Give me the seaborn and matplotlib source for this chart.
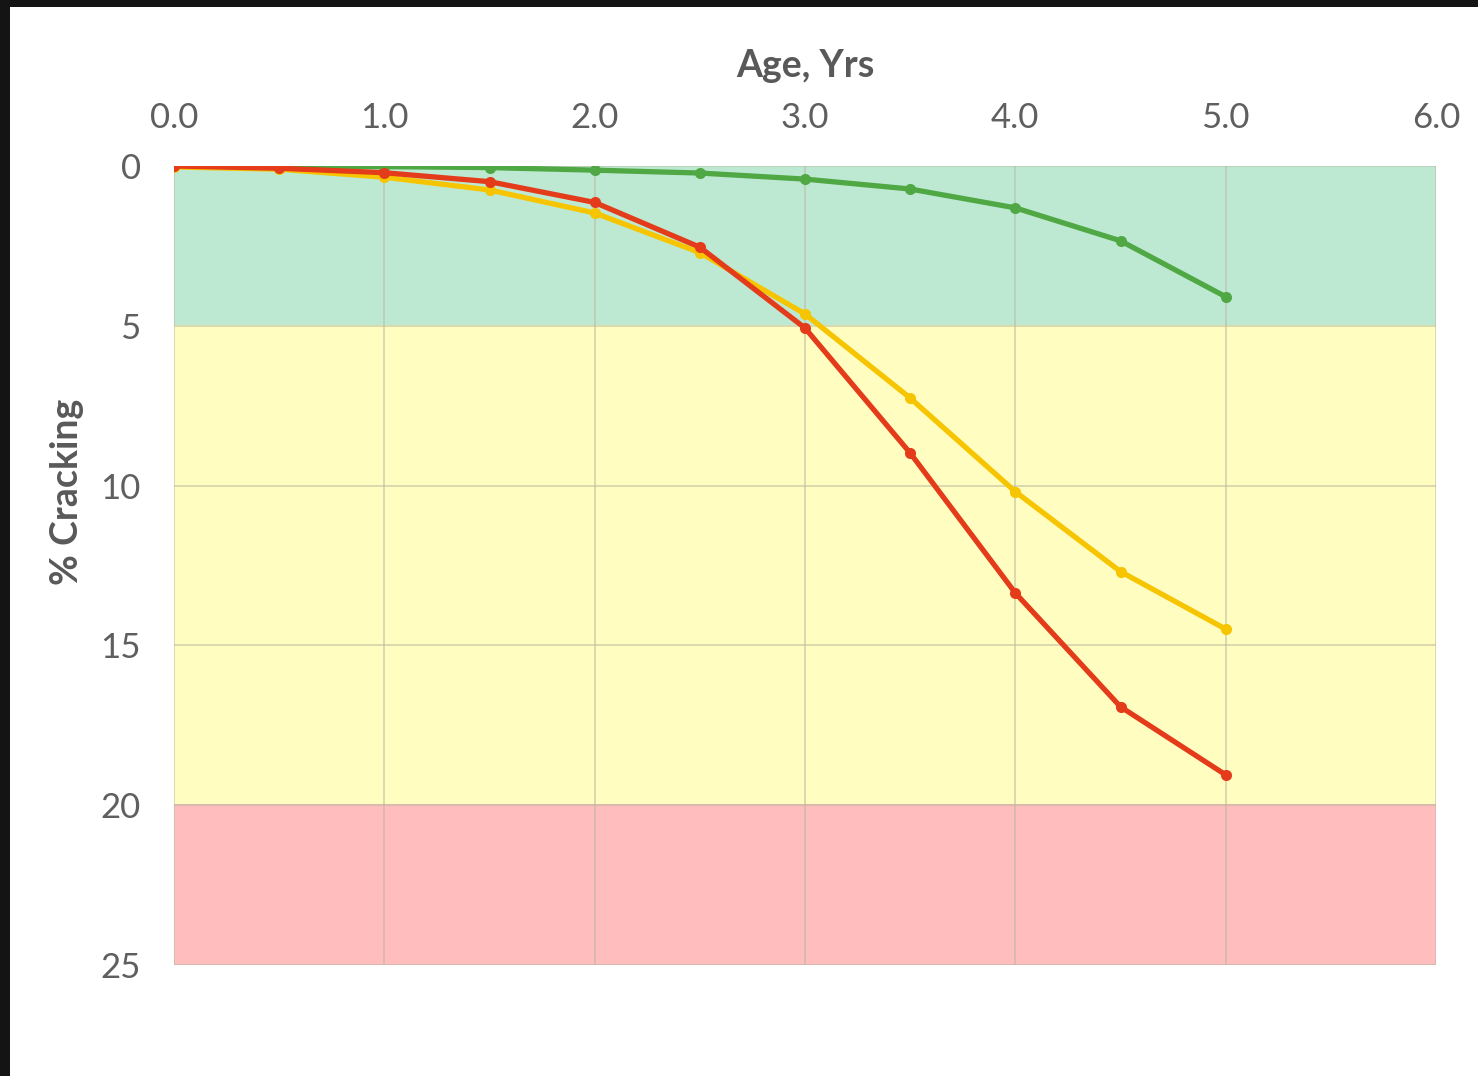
import pandas as pd
import seaborn as sns
import matplotlib.pyplot as plt
from matplotlib.patches import Rectangle

# age in years and % cracking for the three curves
age = [0.0, 0.5, 1.0, 1.5, 2.0, 2.5, 3.0, 3.5, 4.0, 4.5, 5.0]
green_vals = [0.0, 0.0, 0.02, 0.05, 0.13, 0.22, 0.41, 0.72, 1.31, 2.34, 4.09]
yellow_vals = [0.03, 0.1, 0.35, 0.75, 1.47, 2.71, 4.63, 7.26, 10.19, 12.69, 14.49]
red_vals = [0.0, 0.07, 0.21, 0.49, 1.14, 2.54, 5.07, 8.98, 13.36, 16.92, 19.05]

# condition bands (y from, y to)
band_limits = [(0, 5), (5, 20), (20, 25)]
band_colors = ["#bde9d3", "#fffdc0", "#ffbdbd"]

x_ticks = [0.0, 1.0, 2.0, 3.0, 4.0, 5.0, 6.0]
y_ticks = [0, 5, 10, 15, 20, 25]

df = pd.DataFrame({
    "age": age * 3,
    "cracking": green_vals + yellow_vals + red_vals,
    "series": ["green"] * len(age) + ["yellow"] * len(age) + ["red"] * len(age),
})

sns.set_style("white")
plt.rcParams["font.family"] = ["Lato", "DejaVu Sans"]

fig = plt.figure(figsize=(14.78, 10.76), dpi=100, facecolor="#141414")
# white slide panel behind the chart
panel = Rectangle((10 / 1478, 0), 1, 1 - 7 / 1076, transform=fig.transFigure,
                  facecolor="white", edgecolor="none", zorder=-10)
fig.add_artist(panel)

ax = fig.add_axes([174 / 1478, 1 - 965 / 1076, (1436 - 174) / 1478, (965 - 166) / 1076])
ax.set_facecolor("none")

for (y0, y1), c in zip(band_limits, band_colors):
    ax.add_patch(Rectangle((0, y0), 6, y1 - y0, facecolor=c,
                           edgecolor=c, lw=1.5, zorder=0))

sns.lineplot(
    data=df,
    x="age",
    y="cracking",
    hue="series",
    palette={"green": "#4fa843", "yellow": "#f7c400", "red": "#e43c1a"},
    marker="o",
    markersize=8,
    markeredgewidth=0,
    linewidth=3.8,
    legend=False,
    ax=ax,
    zorder=3,
)

ax.set_xlim(0, 6)
ax.set_ylim(25, 0)
ax.xaxis.tick_top()
ax.xaxis.set_label_position("top")
ax.set_xticks(x_ticks)
ax.set_xticklabels([f"{v:.1f}" for v in x_ticks])
ax.set_yticks(y_ticks)
ax.grid(True, color="#b8b8a0", alpha=0.6, lw=1.2, zorder=1)
ax.set_axisbelow(True)
for s in ax.spines.values():
    s.set_visible(False)
ax.tick_params(axis="both", length=0, labelsize=25, labelcolor="#5f5f5f")
ax.tick_params(axis="x", pad=23)
ax.tick_params(axis="y", pad=24)

ax.set_xlabel("Age, Yrs", fontsize=27, fontweight="bold", color="#595959")
ax.set_ylabel("% Cracking", fontsize=27, fontweight="bold", color="#595959")
ax.xaxis.set_label_coords(0.5, 1.112)
ax.yaxis.set_label_coords(-0.071, 0.592)

fig.savefig("out.png", dpi=100, facecolor=fig.get_facecolor())
